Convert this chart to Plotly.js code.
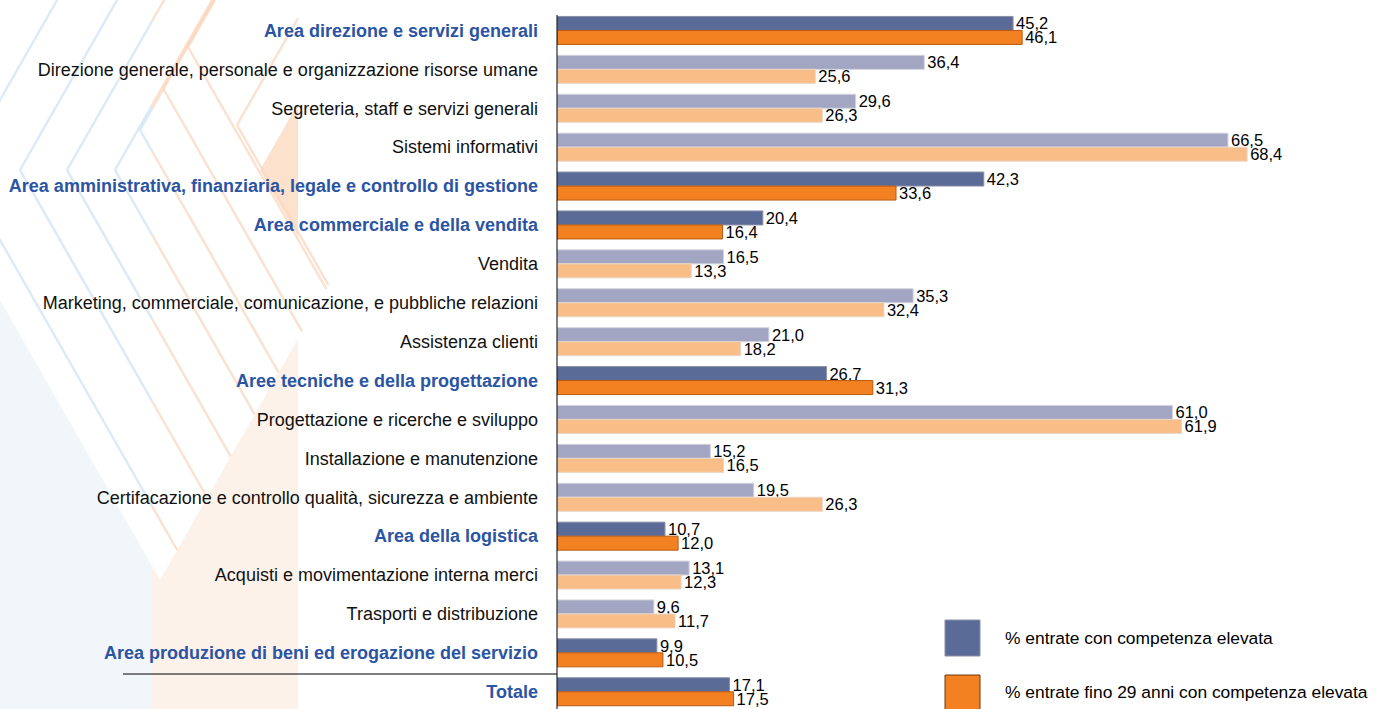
<!DOCTYPE html>
<html>
<head>
<meta charset="utf-8">
<script src="https://cdn.plot.ly/plotly-3.0.1.min.js"></script>
<style>
html,body{margin:0;padding:0;background:#fff;}
#chart{width:1376px;height:709px;}
</style>
</head>
<body>
<div id="chart"></div>
<script>
const categories = [
  "Area direzione e servizi generali",
  "Direzione generale, personale e organizzazione risorse umane",
  "Segreteria, staff e servizi generali",
  "Sistemi informativi",
  "Area amministrativa, finanziaria, legale e controllo di gestione",
  "Area commerciale e della vendita",
  "Vendita",
  "Marketing, commerciale, comunicazione, e pubbliche relazioni",
  "Assistenza clienti",
  "Aree tecniche e della progettazione",
  "Progettazione e ricerche e sviluppo",
  "Installazione e manutenzione",
  "Certifacazione e controllo qualità, sicurezza e ambiente",
  "Area della logistica",
  "Acquisti e movimentazione interna merci",
  "Trasporti e distribuzione",
  "Area produzione di beni ed erogazione del servizio",
  "Totale"
];
const isArea = [true,false,false,false,true,true,false,false,false,true,false,false,false,true,false,false,true,true];
const competenzaElevata = [45.2,36.4,29.6,66.5,42.3,20.4,16.5,35.3,21.0,26.7,61.0,15.2,19.5,10.7,13.1,9.6,9.9,17.1];
const fino29Anni = [46.1,25.6,26.3,68.4,33.6,16.4,13.3,32.4,18.2,31.3,61.9,16.5,26.3,12.0,12.3,11.7,10.5,17.5];
const seriesNames = ["% entrate con competenza elevata","% entrate fino 29 anni con competenza elevata"];

const W=1376,H=709;
const L=557,R=1364,T=11,B=709;
const pxX = x => (x-L)/(R-L);
const pxY = y => (B-y)/(B-T);
const FONT='Liberation Sans, Arial, Helvetica, sans-serif';
const FS=18, FV=16.5, FL=17.4;

const idx = categories.map((c,i)=>i);
const fmt = v => v.toFixed(1).replace('.',',');
const tickText = categories.map((c,i)=> isArea[i] ? '<b><span style="color:#2b54a3">'+c+'</span></b>' : c);

const blueDark='#5b6b97', blueLight='#a3a6c3', orDark='#f38121', orLight='#f9bd87';

const traces = [
  {type:'bar',orientation:'h',name:seriesNames[0],y:idx,x:competenzaElevata,
   text:competenzaElevata.map(fmt),textposition:'outside',cliponaxis:false,constraintext:'none',
   textfont:{family:FONT,size:FV,color:'#000'},
   marker:{color:isArea.map(a=>a?blueDark:blueLight),line:{color:isArea.map(a=>a?'#8a8fa8':'#d2d3de'),width:1}},
   hoverinfo:'skip',showlegend:false},
  {type:'bar',orientation:'h',name:seriesNames[1],y:idx,x:fino29Anni,
   text:fino29Anni.map(fmt),textposition:'outside',cliponaxis:false,constraintext:'none',
   textfont:{family:FONT,size:FV,color:'#000'},
   marker:{color:isArea.map(a=>a?orDark:orLight),line:{color:isArea.map(a=>a?'#b85a10':'#e8d6c6'),width:1}},
   hoverinfo:'skip',showlegend:false}
];

const shapes = [];
function poly(pts, fill){
  let p='M '+pts.map(q=>pxX(q[0])+' '+pxY(q[1])).join(' L ')+' Z';
  shapes.push({type:'path',xref:'paper',yref:'paper',path:p,fillcolor:fill,line:{width:0},layer:'below'});
}
// decorative background fills
const S=1.75, BX=152, BR=298;
poly([[0,300],[BX,300+BX*S],[BX,709],[0,709]],'rgba(236,243,250,0.75)');
poly([[BX,300+BX*S],[160,580],[BR,580-(BR-160)*S],[BR,709],[BX,709]],'rgba(253,241,232,0.9)');
poly([[260,170],[BR,170-(BR-260)*S],[BR,170+(BR-260)*S]],'rgba(252,222,200,0.9)');
// chevron lines
function seg(x0,y0,x1,y1){
  const parts=[];
  if((x0-BX)*(x1-BX)<0){const t=(BX-x0)/(x1-x0);const ym=y0+t*(y1-y0);parts.push([x0,y0,BX,ym],[BX,ym,x1,y1]);}
  else parts.push([x0,y0,x1,y1]);
  parts.forEach(p=>{
    const mid=(p[0]+p[2])/2;
    const col= mid<BX ? 'rgba(208,227,244,0.75)' : 'rgba(250,216,192,0.75)';
    shapes.push({type:'line',xref:'paper',yref:'paper',x0:pxX(p[0]),y0:pxY(p[1]),x1:pxX(p[2]),y1:pxY(p[3]),line:{color:col,width:2.5},layer:'below'});
  });
}
const vertices=[[-40,170],[20,170],[67,170],[115,170],[140,130],[163,88],[188,47],[237,125]];
vertices.forEach(v=>{
  let xt=v[0]+v[1]/S, yt=0;
  if(xt>BR){yt=v[1]-(BR-v[0])*S; xt=BR;}
  seg(v[0],v[1],xt,yt);
  const xi=(580+160*S-v[1]+v[0]*S)/(2*S);
  const yi=v[1]+(xi-v[0])*S;
  seg(v[0],v[1],xi,yi);
});
// axis line
shapes.push({type:'line',xref:'paper',yref:'paper',x0:0,x1:0,y0:pxY(709),y1:pxY(15),line:{color:'#000',width:1}});
// separator above Totale
shapes.push({type:'line',xref:'paper',yref:'paper',x0:pxX(123),x1:0,y0:pxY(674),y1:pxY(674),line:{color:'#000',width:1}});
// legend boxes
shapes.push({type:'rect',xref:'paper',yref:'paper',x0:pxX(945),x1:pxX(980),y0:pxY(656),y1:pxY(620),fillcolor:blueDark,line:{color:'#8a8fa8',width:1}});
shapes.push({type:'rect',xref:'paper',yref:'paper',x0:pxX(945),x1:pxX(980),y0:pxY(711),y1:pxY(675),fillcolor:orDark,line:{color:'#6b3a10',width:1}});

const annotations = [
  {xref:'paper',yref:'paper',x:pxX(1003),y:pxY(638),text:seriesNames[0],showarrow:false,xanchor:'left',yanchor:'middle',font:{family:FONT,size:FL,color:'#000'}},
  {xref:'paper',yref:'paper',x:pxX(1003),y:pxY(692),text:seriesNames[1],showarrow:false,xanchor:'left',yanchor:'middle',font:{family:FONT,size:FL,color:'#000'}}
];

const rowPx = 38.9;
const yBottom = -0.5 + (B-T)/rowPx;

const layout = {
  width:W,height:H,
  margin:{l:L,r:W-R,t:T,b:H-B,pad:0},
  paper_bgcolor:'#fff',plot_bgcolor:'rgba(0,0,0,0)',
  barmode:'group',bargap:0.28,bargroupgap:0,
  showlegend:false,
  xaxis:{range:[0,(R-L)/10.09],showgrid:false,zeroline:false,showline:false,showticklabels:false,ticks:'',fixedrange:true},
  yaxis:{range:[yBottom,-0.5],tickmode:'array',tickvals:idx,ticktext:tickText,showgrid:false,zeroline:false,showline:false,ticks:'',ticklabelstandoff:18,
         tickfont:{family:FONT,size:FS,color:'#111'},fixedrange:true},
  shapes:shapes,annotations:annotations,
  font:{family:FONT}
};

Plotly.newPlot('chart',traces,layout,{displayModeBar:false,staticPlot:true});
</script>
</body>
</html>
